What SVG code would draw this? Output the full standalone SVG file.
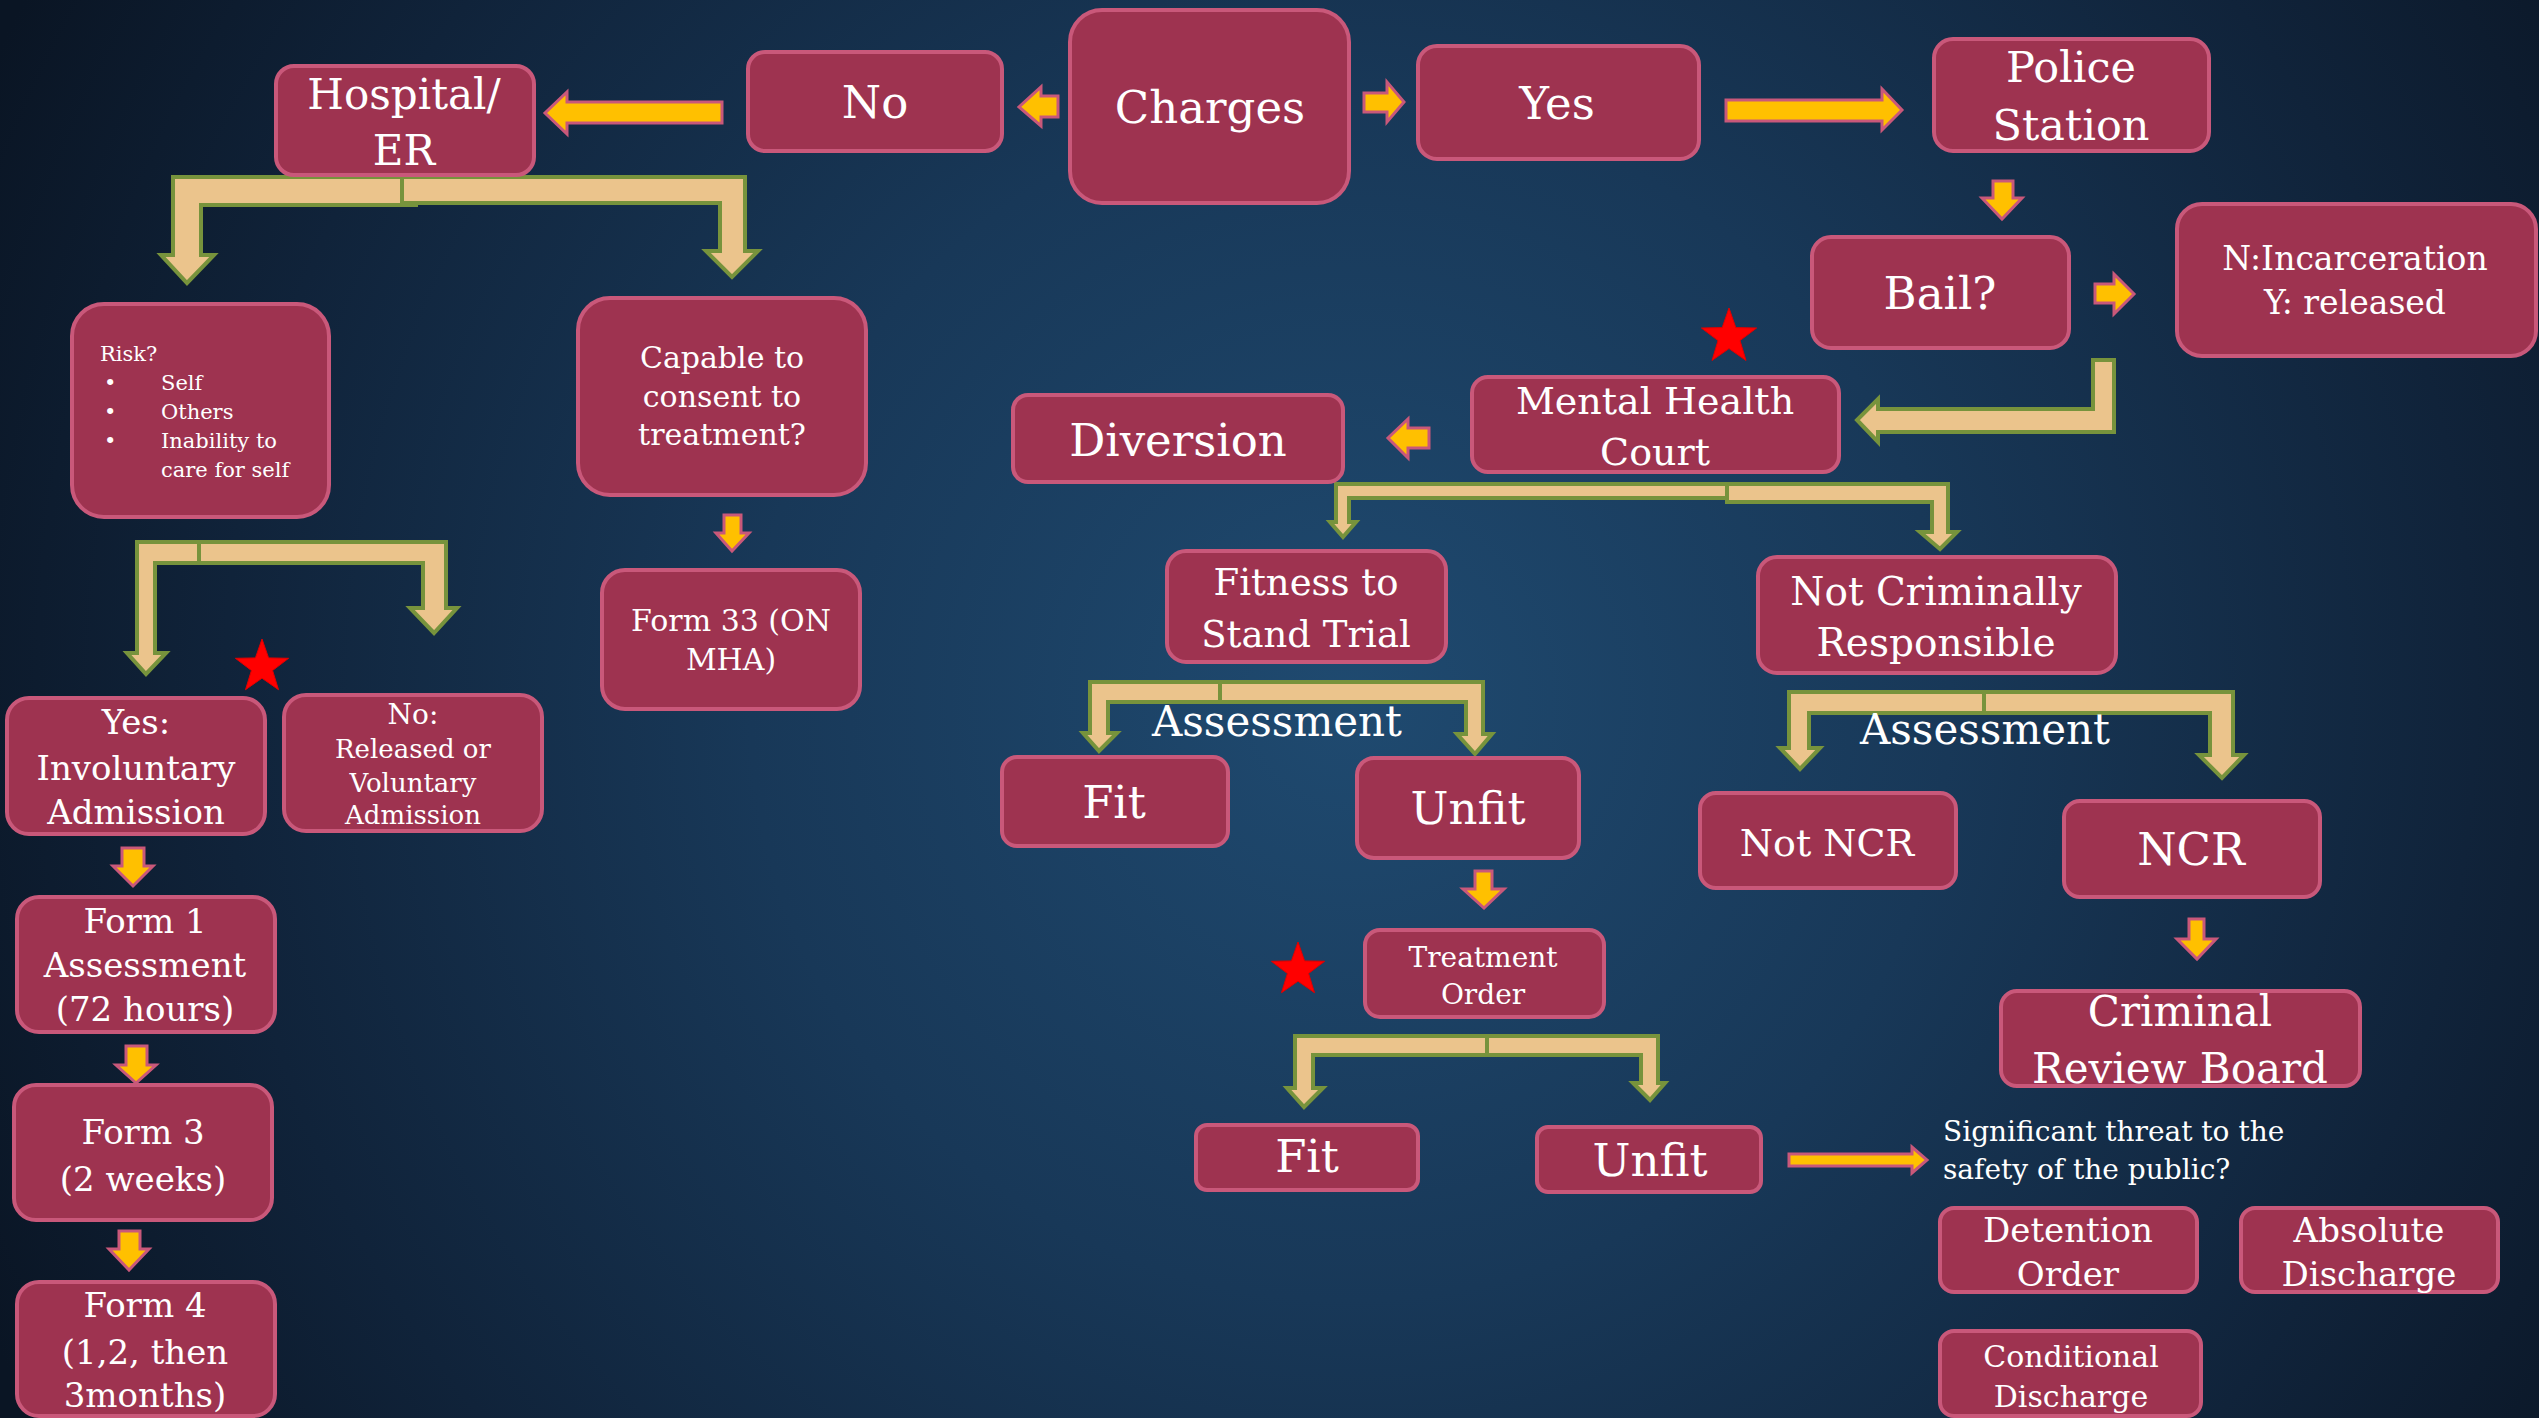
<svg xmlns="http://www.w3.org/2000/svg" width="2539" height="1418" viewBox="0 0 2539 1418">
<defs>
<radialGradient id="bg" cx="1350" cy="700" r="1500" gradientUnits="userSpaceOnUse">
<stop offset="0" stop-color="#1f4a70"/>
<stop offset="0.4" stop-color="#183858"/>
<stop offset="0.75" stop-color="#10233a"/>
<stop offset="1" stop-color="#0a1524"/>
</radialGradient>
<style>
.box{fill:#9e3350;stroke:#c9587a;stroke-width:4}
.ya{fill:#ffc000;stroke:#c9587a;stroke-width:3;stroke-linejoin:miter}
.ba{fill:#ebc48c;stroke:#77933c;stroke-width:4;stroke-linejoin:miter}
.star{fill:#ff0000;stroke:#e00000;stroke-width:1}
text{font-family:"DejaVu Serif","Liberation Serif",serif;fill:#ffffff}
.c{text-anchor:middle}
</style>
</defs>
<rect x="0" y="0" width="2539" height="1418" fill="url(#bg)"/>

<g id="connectors">
<!-- yellow block arrows -->
<path class="ya" d="M722,102 L567,102 L567,92 L545,113 L567,134 L567,123 L722,123 Z"/>
<path class="ya" d="M1058,96 L1041,96 L1041,87 L1019,107 L1041,126 L1041,117 L1058,117 Z"/>
<path class="ya" d="M1364,93 L1387,93 L1387,82 L1404,102 L1387,122 L1387,112 L1364,112 Z"/>
<path class="ya" d="M1726,100 L1882,100 L1882,89 L1902,110 L1882,130 L1882,121 L1726,121 Z"/>
<path class="ya" d="M1993,181 L2013,181 L2013,198 L2022,198 L2002,219 L1982,198 L1993,198 Z"/>
<path class="ya" d="M2095,284 L2114,284 L2114,274 L2134,294 L2114,314 L2114,303 L2095,303 Z"/>
<path class="ya" d="M1429,428 L1408,428 L1408,419 L1388,438 L1408,458 L1408,448 L1429,448 Z"/>
<path class="ya" d="M724,515 L741,515 L741,533 L749,533 L732,551 L716,533 L724,533 Z"/>
<path class="ya" d="M122,848 L144,848 L144,866 L153,866 L133,886 L113,866 L122,866 Z"/>
<path class="ya" d="M126,1046 L147,1046 L147,1065 L156,1065 L136,1083 L116,1065 L126,1065 Z"/>
<path class="ya" d="M119,1231 L140,1231 L140,1249 L149,1249 L129,1270 L109,1249 L119,1249 Z"/>
<path class="ya" d="M1475,871 L1492,871 L1492,889 L1504,889 L1484,908 L1463,889 L1475,889 Z"/>
<path class="ya" d="M2189,919 L2204,919 L2204,939 L2216,939 L2197,959 L2177,939 L2189,939 Z"/>
<path class="ya" d="M1789,1154 L1912,1154 L1912,1147 L1927,1160 L1912,1173 L1912,1166 L1789,1166 Z"/>

<!-- bent (bracket) arrows -->
<path class="ba" d="M416,177 L173,177 L173,255 L161,255 L187,283 L214,255 L201,255 L201,205 L416,205 Z"/>
<path class="ba" d="M402,177 L745,177 L745,251 L758,251 L732,277 L706,251 L720,251 L720,203 L402,203 Z"/>
<path class="ba" d="M205,542 L137,542 L137,653 L127,653 L146,674 L166,653 L155,653 L155,563 L205,563 Z"/>
<path class="ba" d="M199,542 L446,542 L446,608 L457,608 L434,633 L410,608 L423,608 L423,563 L199,563 Z"/>
<path class="ba" d="M2093,360 L2114,360 L2114,432 L1878,432 L1878,442 L1857,420 L1878,399 L1878,409 L2093,409 Z"/>
<path class="ba" d="M1746,484 L1336,484 L1336,522 L1330,522 L1343,537 L1356,522 L1349,522 L1349,498 L1746,498 Z"/>
<path class="ba" d="M1727,484 L1948,484 L1948,532 L1957,532 L1940,549 L1920,532 L1932,532 L1932,502 L1727,502 Z"/>
<path class="ba" d="M1226,682 L1090,682 L1090,733 L1083,733 L1099,751 L1117,733 L1108,733 L1108,702 L1226,702 Z"/>
<path class="ba" d="M1220,682 L1483,682 L1483,734 L1492,734 L1475,754 L1457,734 L1466,734 L1466,702 L1220,702 Z"/>
<path class="ba" d="M1990,692 L1789,692 L1789,748 L1780,748 L1800,769 L1820,748 L1809,748 L1809,713 L1990,713 Z"/>
<path class="ba" d="M1984,692 L2233,692 L2233,755 L2244,755 L2222,778 L2199,755 L2210,755 L2210,713 L1984,713 Z"/>
<path class="ba" d="M1492,1036 L1295,1036 L1295,1088 L1287,1088 L1304,1107 L1323,1088 L1313,1088 L1313,1055 L1492,1055 Z"/>
<path class="ba" d="M1487,1036 L1658,1036 L1658,1083 L1665,1083 L1650,1100 L1633,1083 L1641,1083 L1641,1055 L1487,1055 Z"/>
</g>

<g id="labels">
<text class="c" x="1277" y="736" font-size="42">Assessment</text>
<text class="c" x="1985" y="744" font-size="42">Assessment</text>
<text x="1943" y="1141" font-size="28">Significant threat to the</text>
<text x="1943" y="1179" font-size="28">safety of the public?</text>
</g>

<g id="stars">
<polygon class="star" transform="translate(1729,337)" points="0,-29 6.8,-9.4 27.6,-9 11,3.6 17,23.5 0,11.6 -17,23.5 -11,3.6 -27.6,-9 -6.8,-9.4"/>
<polygon class="star" transform="translate(262,667)" points="0,-28 6.6,-9.1 26.6,-8.7 10.6,3.5 16.5,22.7 0,11.2 -16.5,22.7 -10.6,3.5 -26.6,-8.7 -6.6,-9.1"/>
<polygon class="star" transform="translate(1298,970)" points="0,-28 6.6,-9.1 26.6,-8.7 10.6,3.5 16.5,22.7 0,11.2 -16.5,22.7 -10.6,3.5 -26.6,-8.7 -6.6,-9.1"/>
</g>

<g id="charges"><rect class="box" x="1070" y="10" width="279" height="193" rx="32"/><text class="c" x="1210" y="123" font-size="45">Charges</text></g>
<g id="no"><rect class="box" x="748" y="52" width="254" height="99" rx="17"/><text class="c" x="875" y="118" font-size="45">No</text></g>
<g id="hospital"><rect class="box" x="276" y="66" width="258" height="109" rx="18"/><text class="c" x="404" y="109" font-size="42">Hospital/</text><text class="c" x="404" y="165" font-size="42">ER</text></g>
<g id="yes"><rect class="box" x="1418" y="46" width="281" height="113" rx="19"/><text class="c" x="1557" y="119" font-size="45">Yes</text></g>
<g id="police"><rect class="box" x="1934" y="39" width="275" height="112" rx="19"/><text class="c" x="2071" y="82" font-size="43">Police</text><text class="c" x="2071" y="140" font-size="43">Station</text></g>
<g id="bail"><rect class="box" x="1812" y="237" width="257" height="111" rx="19"/><text class="c" x="1940" y="309" font-size="45">Bail?</text></g>
<g id="incarceration"><rect class="box" x="2177" y="204" width="359" height="152" rx="25"/><text class="c" x="2355" y="270" font-size="33">N:Incarceration</text><text class="c" x="2355" y="314" font-size="33">Y: released</text></g>
<g id="mhc"><rect class="box" x="1472" y="377" width="367" height="95" rx="16"/><text class="c" x="1655" y="414" font-size="38">Mental Health</text><text class="c" x="1655" y="465" font-size="38">Court</text></g>
<g id="diversion"><rect class="box" x="1013" y="395" width="330" height="87" rx="15"/><text class="c" x="1178" y="456" font-size="45">Diversion</text></g>
<g id="risk"><rect class="box" x="72" y="304" width="257" height="213" rx="32"/>
<text x="100" y="361" font-size="21">Risk?</text>
<text x="104" y="390" font-size="21">•</text><text x="161" y="390" font-size="21">Self</text>
<text x="104" y="419" font-size="21">•</text><text x="161" y="419" font-size="21">Others</text>
<text x="104" y="448" font-size="21">•</text><text x="161" y="448" font-size="21">Inability to</text>
<text x="161" y="477" font-size="21">care for self</text></g>
<g id="capable"><rect class="box" x="578" y="298" width="288" height="197" rx="32"/><text class="c" x="722" y="368" font-size="30">Capable to</text><text class="c" x="722" y="407" font-size="30">consent to</text><text class="c" x="722" y="445" font-size="30">treatment?</text></g>
<g id="form33"><rect class="box" x="602" y="570" width="258" height="139" rx="23"/><text class="c" x="731" y="631" font-size="30">Form 33 (ON</text><text class="c" x="731" y="670" font-size="30">MHA)</text></g>
<g id="involuntary"><rect class="box" x="7" y="698" width="258" height="136" rx="22"/><text class="c" x="136" y="734" font-size="34">Yes:</text><text class="c" x="136" y="780" font-size="34">Involuntary</text><text class="c" x="136" y="824" font-size="34">Admission</text></g>
<g id="voluntary"><rect class="box" x="284" y="695" width="258" height="136" rx="22"/><text class="c" x="413" y="724" font-size="28">No:</text><text class="c" x="413" y="758" font-size="26">Released or</text><text class="c" x="413" y="792" font-size="26">Voluntary</text><text class="c" x="413" y="824" font-size="26">Admission</text></g>
<g id="form1"><rect class="box" x="17" y="897" width="258" height="135" rx="22"/><text class="c" x="145" y="933" font-size="34">Form 1</text><text class="c" x="145" y="977" font-size="34">Assessment</text><text class="c" x="145" y="1021" font-size="34">(72 hours)</text></g>
<g id="form3"><rect class="box" x="14" y="1085" width="258" height="135" rx="22"/><text class="c" x="143" y="1144" font-size="34">Form 3</text><text class="c" x="143" y="1191" font-size="34">(2 weeks)</text></g>
<g id="form4"><rect class="box" x="17" y="1282" width="258" height="134" rx="22"/><text class="c" x="145" y="1317" font-size="34">Form 4</text><text class="c" x="145" y="1364" font-size="34">(1,2, then</text><text class="c" x="145" y="1407" font-size="34">3months)</text></g>
<g id="fitness"><rect class="box" x="1167" y="551" width="279" height="111" rx="19"/><text class="c" x="1306" y="595" font-size="37">Fitness to</text><text class="c" x="1306" y="647" font-size="37">Stand Trial</text></g>
<g id="ncr-resp"><rect class="box" x="1758" y="557" width="358" height="116" rx="19"/><text class="c" x="1936" y="605" font-size="39">Not Criminally</text><text class="c" x="1936" y="656" font-size="39">Responsible</text></g>
<g id="fit1"><rect class="box" x="1002" y="757" width="226" height="89" rx="15"/><text class="c" x="1114" y="818" font-size="45">Fit</text></g>
<g id="unfit1"><rect class="box" x="1357" y="758" width="222" height="100" rx="17"/><text class="c" x="1468" y="824" font-size="45">Unfit</text></g>
<g id="notncr"><rect class="box" x="1700" y="793" width="256" height="95" rx="16"/><text class="c" x="1827" y="856" font-size="38">Not NCR</text></g>
<g id="ncr"><rect class="box" x="2064" y="801" width="256" height="96" rx="16"/><text class="c" x="2191" y="865" font-size="45">NCR</text></g>
<g id="treatment"><rect class="box" x="1365" y="930" width="239" height="87" rx="15"/><text class="c" x="1483" y="967" font-size="28">Treatment</text><text class="c" x="1483" y="1004" font-size="28">Order</text></g>
<g id="crb"><rect class="box" x="2001" y="991" width="359" height="95" rx="16"/><text class="c" x="2180" y="1026" font-size="42">Criminal</text><text class="c" x="2180" y="1083" font-size="42">Review Board</text></g>
<g id="fit2"><rect class="box" x="1196" y="1125" width="222" height="65" rx="11"/><text class="c" x="1307" y="1172" font-size="45">Fit</text></g>
<g id="unfit2"><rect class="box" x="1537" y="1127" width="224" height="65" rx="11"/><text class="c" x="1650" y="1176" font-size="45">Unfit</text></g>
<g id="detention"><rect class="box" x="1940" y="1208" width="257" height="84" rx="14"/><text class="c" x="2068" y="1242" font-size="34">Detention</text><text class="c" x="2068" y="1286" font-size="34">Order</text></g>
<g id="absolute"><rect class="box" x="2241" y="1208" width="257" height="84" rx="14"/><text class="c" x="2369" y="1242" font-size="34">Absolute</text><text class="c" x="2369" y="1286" font-size="34">Discharge</text></g>
<g id="conditional"><rect class="box" x="1940" y="1331" width="261" height="85" rx="14"/><text class="c" x="2071" y="1367" font-size="30">Conditional</text><text class="c" x="2071" y="1407" font-size="30">Discharge</text></g>
</svg>
